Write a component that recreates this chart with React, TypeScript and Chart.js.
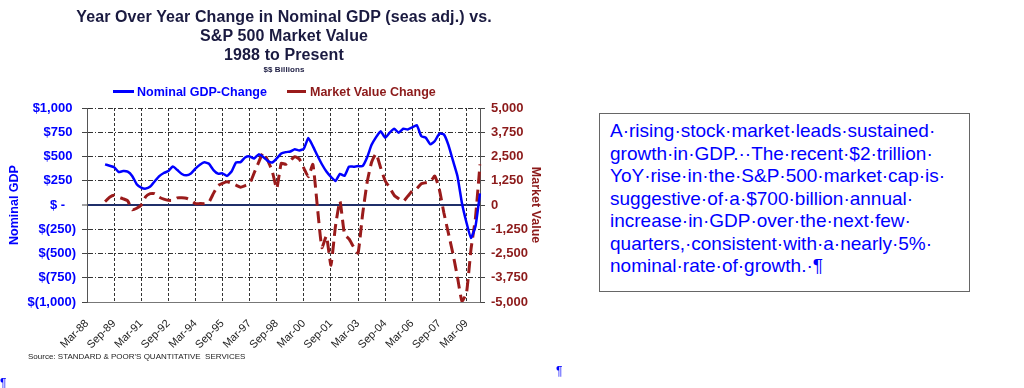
import React, { useEffect, useRef } from "react";
import { Chart, registerables } from "chart.js";

Chart.register(...registerables);

const FONT = '"Liberation Sans", Arial, Helvetica, sans-serif';

const QUARTER_NAMES = ["Mar", "Jun", "Sep", "Dec"];
const START_YEAR = 88;
const QUARTER_COUNT = 88;
const CATEGORIES: string[] = Array.from({ length: QUARTER_COUNT }, (_, i) =>
  `${QUARTER_NAMES[i % 4]}-${String((START_YEAR + Math.floor(i / 4)) % 100).padStart(2, "0")}`
);

// Nominal GDP YoY change ($ billions), left axis
const GDP_CHANGE: (number | null)[] = [
  null, null, null, null, 419, 405, 390, 340, 350, 344,
  300, 215, 180, 169, 190, 245, 298, 330, 350, 398,
  360, 320, 306, 325, 375, 415, 440, 425, 360, 323,
  326, 300, 345, 440, 442, 490, 501, 480, 522, 495,
  455, 438, 480, 530, 545, 552, 575, 563, 580, 690,
  607, 510, 420, 345, 290, 247, 320, 300, 395, 395,
  401, 400, 490, 620, 700, 761, 693, 745, 786, 745,
  786, 779, 800, 823, 710, 693, 625, 660, 735, 728,
  620, 460, 300, 20, -180, -340, -220, 120,
];

// S&P 500 market value YoY change ($ billions), right axis
const MARKET_CHANGE: (number | null)[] = [
  null, null, null, null, 175, 400, 500, 400, 320, 220,
  -250, -170, 0, 430, 590, 590, 400, 300, 242, 242,
  370, 370, 350, 250, 72, 72, 72, 150, 600, 1000,
  1120, 1200, 1130, 1020, 920, 1000, 1100, 1650, 2200, 2700,
  2300, 1750, 850, 2150, 2100, 2300, 2490, 2370, 1900, 1450,
  2094, -100, -2200, -1600, -3100, -1100, 200, -1500, -1750, -2150,
  -2480, -500, 1150, 2200, 2644, 1924, 1250, 900, 500, 320,
  180, 450, 720, 850, 1100, 1150, 1200, 1492, 800, -400,
  -1450, -2500, -3700, -4950, -4550, -2300, -650, 2094,
];

const LEFT_TICKS = { min: -1000, max: 1000, step: 250 };
const RIGHT_TICKS = { min: -5000, max: 5000, step: 1250 };

const TITLE_LINES = [
  "Year Over Year Change in Nominal GDP (seas adj.) vs.",
  "S&P 500 Market Value",
  "1988 to Present",
];
const SUBTITLE = "$$ Billions";
const SERIES_NAMES = ["Nominal GDP-Change", "Market Value Change"];
const SOURCE = "Source: STANDARD & POOR'S QUANTITATIVE  SERVICES";
const NOTE_LINES = [
  "A·rising·stock·market·leads·sustained·",
  "growth·in·GDP.··The·recent·$2·trillion·",
  "YoY·rise·in·the·S&P·500·market·cap·is·",
  "suggestive·of·a·$700·billion·annual·",
  "increase·in·GDP·over·the·next·few·",
  "quarters,·consistent·with·a·nearly·5%·",
  "nominal·rate·of·growth.·¶",
];

const BLUE = "#0000FF";
const RED = "#9A1B1B";
const RED_TEXT = "#8C1A1A";
const NAVY = "#1A1A40";

function fmtLeft(v: number): string {
  if (v === 0) return "$ -   ";
  if (v < 0) return "$(" + Math.abs(v).toLocaleString("en-US") + ")";
  return "$" + v.toLocaleString("en-US") + " ";
}

export default function App() {
  const canvasRef = useRef<HTMLCanvasElement | null>(null);

  useEffect(() => {
    const canvas = canvasRef.current;
    if (!canvas) return;
    const chart = new Chart(canvas, {
      type: "line",
      data: {
        labels: CATEGORIES,
        datasets: [
          {
            label: SERIES_NAMES[0],
            data: GDP_CHANGE,
            yAxisID: "y",
            borderColor: BLUE,
            borderWidth: 2.5,
            pointRadius: 0,
            tension: 0.15,
            spanGaps: false,
          },
          {
            label: SERIES_NAMES[1],
            data: MARKET_CHANGE,
            yAxisID: "y1",
            borderColor: RED,
            borderWidth: 3,
            borderDash: [12, 6],
            pointRadius: 0,
            tension: 0.15,
          },
        ],
      },
      options: {
        responsive: false,
        animation: false,
        devicePixelRatio: 1,
        layout: { padding: { top: 108, left: 0, right: 0, bottom: 0 } },
        plugins: {
          legend: { display: false },
          title: { display: false },
          tooltip: { enabled: false },
        },
        scales: {
          x: {
            type: "category",
            offset: false,
            grid: {
              offset: false,
              drawTicks: false,
              lineWidth: 1,
              color: (ctx: any) =>
                ctx.index % 6 === 0 && ctx.index > 0 && ctx.index < QUARTER_COUNT - 1
                  ? "#333"
                  : "rgba(0,0,0,0)",
            },
            border: { display: true, color: "#777", width: 1, dash: [3, 2] },
            ticks: {
              autoSkip: false,
              maxRotation: 45,
              minRotation: 45,
              padding: 15,
              color: "#222",
              font: { family: FONT, size: 11 },
              callback: (_v: any, i: number) => (i % 6 === 0 ? CATEGORIES[i] : ""),
            },
            afterFit: (s: any) => {
              s.height = 86;
            },
          },
          y: {
            position: "left",
            min: LEFT_TICKS.min,
            max: LEFT_TICKS.max,
            ticks: {
              stepSize: LEFT_TICKS.step,
              padding: 6,
              color: BLUE,
              font: { family: FONT, size: 13, weight: "bold" },
              callback: (v: any) => fmtLeft(Number(v)),
            },
            grid: {
              color: (ctx: any) => (ctx.tick && ctx.tick.value === 0 ? "#1F2F6A" : "#333"),
              lineWidth: (ctx: any) => (ctx.tick && ctx.tick.value === 0 ? 2 : 1),
              tickLength: 5,
              tickColor: "#444",
              tickWidth: 1,
              tickBorderDash: [],
            },
            border: {
              display: true,
              color: "#555",
              width: 1,
              dash: (ctx: any) =>
                ctx.tick && ctx.tick.value === 0 ? [] : [5, 2, 1, 2],
            },
            title: {
              display: true,
              text: "Nominal GDP",
              color: BLUE,
              font: { family: FONT, size: 12.5, weight: "bold" },
              padding: { top: 7.5, bottom: 0 },
            },
            afterFit: (s: any) => {
              s.width = 87;
            },
          },
          y1: {
            position: "right",
            min: RIGHT_TICKS.min,
            max: RIGHT_TICKS.max,
            ticks: {
              stepSize: RIGHT_TICKS.step,
              padding: 6,
              color: RED_TEXT,
              font: { family: FONT, size: 13, weight: "bold" },
              callback: (v: any) => Number(v).toLocaleString("en-US"),
            },
            grid: {
              drawOnChartArea: false,
              tickLength: 5,
              color: "#444",
            },
            border: { display: true, color: "#555", width: 1 },
            title: {
              display: true,
              text: "Market Value",
              color: RED_TEXT,
              font: { family: FONT, size: 12.5, weight: "bold" },
              padding: { top: 17.5, bottom: 0 },
            },
            afterFit: (s: any) => {
              s.width = 80;
            },
          },
        },
      } as any,
    });
    return () => chart.destroy();
  }, []);

  return (
    <div
      style={{
        position: "absolute",
        left: 0,
        top: 0,
        width: 1024,
        height: 388,
        background: "#fff",
        overflow: "hidden",
        fontFamily: FONT,
      }}
    >
      <canvas
        ref={canvasRef}
        width={560}
        height={388}
        style={{ position: "absolute", left: 0, top: 0, width: 560, height: 388 }}
      />
      <div
        style={{
          position: "absolute",
          left: 0,
          top: 7,
          width: 568,
          textAlign: "center",
          color: NAVY,
          fontWeight: "bold",
          fontSize: 16,
          letterSpacing: 0.1,
          lineHeight: "19px",
          whiteSpace: "nowrap",
        }}
      >
        {TITLE_LINES.map((t, i) => (
          <div key={i}>{t}</div>
        ))}
        <div style={{ fontSize: 8, lineHeight: "10px", marginTop: 1 }}>{SUBTITLE}</div>
      </div>
      {/* legend */}
      <div style={{ position: "absolute", left: 113, top: 90, width: 21, height: 3, background: BLUE }} />
      <div
        style={{
          position: "absolute",
          left: 137,
          top: 84,
          color: BLUE,
          fontWeight: "bold",
          fontSize: 12.5,
          lineHeight: "16px",
          whiteSpace: "nowrap",
        }}
      >
        {SERIES_NAMES[0]}
      </div>
      <div style={{ position: "absolute", left: 287, top: 90, width: 19, height: 3, background: RED }} />
      <div
        style={{
          position: "absolute",
          left: 310,
          top: 84,
          color: RED_TEXT,
          fontWeight: "bold",
          fontSize: 12.5,
          lineHeight: "16px",
          whiteSpace: "nowrap",
        }}
      >
        {SERIES_NAMES[1]}
      </div>
      <div
        style={{
          position: "absolute",
          left: 28,
          top: 352,
          fontSize: 8,
          color: "#222",
          whiteSpace: "pre",
        }}
      >
        {SOURCE}
      </div>
      <div style={{ position: "absolute", left: 556, top: 364, fontSize: 12, color: BLUE }}>¶</div>
      <div style={{ position: "absolute", left: 0, top: 376, fontSize: 12, color: BLUE }}>¶</div>
      <div
        style={{
          position: "absolute",
          left: 599,
          top: 113,
          width: 371,
          height: 179,
          boxSizing: "border-box",
          border: "1.5px solid #666",
          paddingLeft: 10,
          paddingTop: 6,
          color: BLUE,
          fontSize: 19,
          lineHeight: "22.5px",
          whiteSpace: "nowrap",
        }}
      >
        {NOTE_LINES.map((t, i) => (
          <div key={i}>{t}</div>
        ))}
      </div>
    </div>
  );
}
